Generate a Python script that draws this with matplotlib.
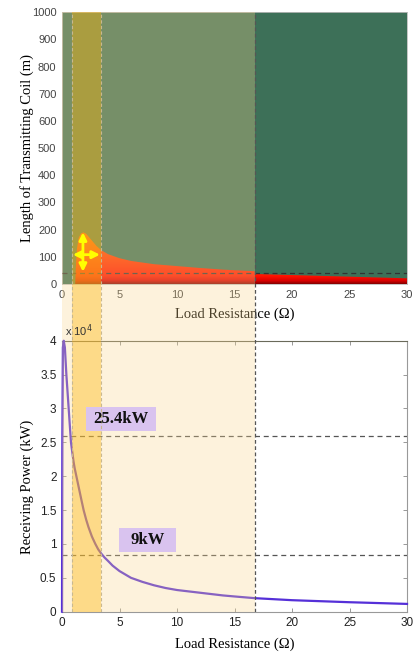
import numpy as np
import matplotlib.pyplot as plt
from matplotlib.colors import LinearSegmentedColormap
from matplotlib.patches import Rectangle

# coil length boundary of the feasible (red) region, 0..16.75 ohm
r_len = [1.15, 1.2, 1.3, 1.45, 1.65, 1.85, 2.1, 2.5, 3.0, 3.4, 4, 5, 6, 8, 10, 12, 14, 16.75]
len_top = [0, 60, 130, 170, 186, 190, 185, 165, 140, 125, 110, 95, 85, 73, 66, 59, 53, 47]
# thin region beyond 16.75 ohm
r_len2 = [16.75, 20, 25, 30]
len_top2 = [37, 33, 27, 21]
len_limit = 40

# receiving power (x 10^4 kW) vs load resistance
r_pw = [0, 0.03, 0.08, 0.15, 0.25, 0.38, 0.58, 0.78, 1.0, 1.1, 1.25, 1.5, 1.7, 1.88,
        2.1, 2.3, 2.6, 2.9, 3.15, 3.4, 3.7, 4, 4.4, 5, 5.5, 6, 6.5, 7, 7.5, 8, 9,
        10, 11, 12, 13, 14, 15, 16.75, 20, 25, 30]
pw = [0, 2.5, 3.9, 4.0, 3.9, 3.5, 3.0, 2.5, 2.22, 2.12, 2.0, 1.8, 1.64, 1.5,
      1.36, 1.25, 1.11, 1.0, 0.92, 0.86, 0.8, 0.75, 0.68, 0.6, 0.55, 0.5, 0.47,
      0.44, 0.415, 0.39, 0.35, 0.32, 0.3, 0.28, 0.26, 0.24, 0.225, 0.2, 0.17,
      0.14, 0.115]
pw_levels = [2.6, 0.84]
pw_labels = ['25.4kW', '9kW']

# resistance ranges
r_opt = (0.85, 3.4)
r_max = 16.75

serif = 'Liberation Serif'
sans = 'Liberation Sans'

fig = plt.figure(figsize=(4.15, 6.55), dpi=100)
left, width = 62 / 415, 345 / 415
ax_top = fig.add_axes([left, 0.5664, width, 0.4148])
ax_bot = fig.add_axes([left, 0.0661, width, 0.4137])
ax_ov = fig.add_axes([left, 0.0661, width, 0.9151], zorder=5)

# ---- top: coil length ----
ax_top.set_facecolor('#3D7058')
fire = LinearSegmentedColormap.from_list('fire', [
    (0.0, '#820000'), (0.06, '#DC0000'), (0.15, '#FF1400'),
    (0.5, '#FF3C00'), (1.0, '#FF6400')])
grad = np.linspace(0, 1, 256)[:, None]
for rr, tt in [(r_len, len_top), (r_len2, len_top2)]:
    poly = ax_top.fill_between(rr, 0, tt, color='none', lw=0)
    im = ax_top.imshow(grad, extent=[0, 30, 0, 200], origin='lower',
                       aspect='auto', cmap=fire, zorder=2)
    im.set_clip_path(poly.get_paths()[0], transform=ax_top.transData)
ax_top.axhline(len_limit, color='#333333', lw=0.9, ls=(0, (4, 3)), zorder=3)
ax_top.set_xlim(0, 30)
ax_top.set_ylim(0, 1000)
ax_top.set_xticks(range(0, 31, 5))
ax_top.set_yticks(range(0, 1001, 100))
ax_top.tick_params(length=0, pad=4, labelsize=8, labelcolor='#444444')
for lab in ax_top.get_xticklabels() + ax_top.get_yticklabels():
    lab.set_family(sans)
for s in ax_top.spines.values():
    s.set_color('#bbbbbb')
    s.set_linewidth(0.6)
ax_top.set_xlabel('Load Resistance (Ω)', family=serif, fontsize=10.5, labelpad=6)
ax_top.set_ylabel('Length of Transmitting Coil (m)', family=serif, fontsize=10.5)
ax_top.yaxis.set_label_coords(-0.08, 0.5)

# ---- bottom: receiving power ----
ax_bot.plot(r_pw, pw, color='#5530D8', lw=1.6, zorder=3, clip_on=False)
for lv in pw_levels:
    ax_bot.axhline(lv, color='#555555', lw=0.9, ls=(0, (4, 3)), zorder=2)
ax_bot.set_xlim(0, 30)
ax_bot.set_ylim(0, 4)
ax_bot.set_xticks(range(0, 31, 5))
ax_bot.set_yticks(np.arange(0, 4.01, 0.5))
ax_bot.set_yticklabels(['0', '0.5', '1', '1.5', '2', '2.5', '3', '3.5', '4'])
ax_bot.tick_params(direction='in', length=3, width=0.6, color='#888888',
                   top=True, right=True, labelsize=8.5, labelcolor='#222222', pad=4)
for lab in ax_bot.get_xticklabels() + ax_bot.get_yticklabels():
    lab.set_family(sans)
for s in ax_bot.spines.values():
    s.set_color('#999999')
    s.set_linewidth(0.8)
ax_bot.spines['top'].set_color('#6a6a5a')
ax_bot.set_xlabel('Load Resistance (Ω)', family=serif, fontsize=10.5, labelpad=6)
ax_bot.set_ylabel('Receiving Power (kW)', family=serif, fontsize=10.5)
ax_bot.yaxis.set_label_coords(-0.08, 0.46)

# ---- shaded resistance ranges over both panels ----
ax_ov.set_xlim(0, 30)
ax_ov.set_ylim(0, 1)
ax_ov.axis('off')
ax_ov.patch.set_alpha(0)
ax_ov.axvspan(0, r_max, color='#FBD78E', alpha=0.3, lw=0)
ax_ov.axvspan(r_opt[0], r_opt[1], color='#FFB400', alpha=0.38, lw=0)
for x in r_opt:
    ax_ov.axvline(x, color='#C8B890', lw=0.8, ls=(0, (3, 2)))
ax_ov.axvline(r_max, color='#555555', lw=0.9, ls=(0, (3, 2)))
ax_ov.text(0.01, 1.008, r'x 10$^4$', transform=ax_bot.transAxes, family=sans,
           fontsize=8, color='#333333', va='bottom', ha='left')

# adjustment arrows
arr = dict(arrowstyle='<|-|>', color='#FFFF00', lw=2, mutation_scale=11,
           shrinkA=0, shrinkB=0)
ax_ov.annotate('', xy=(0.95, 108), xytext=(3.3, 108), xycoords=ax_top.transData,
               textcoords=ax_top.transData, arrowprops=arr)
ax_ov.annotate('', xy=(1.82, 45), xytext=(1.82, 190), xycoords=ax_top.transData,
               textcoords=ax_top.transData, arrowprops=arr)

# power level tags
tags = [(2.1, 2.67, 6.1, 0.35), (4.98, 0.885, 4.92, 0.345)]
for (x0, y0, w, h), txt in zip(tags, pw_labels):
    ax_ov.add_patch(Rectangle((x0, y0), w, h, transform=ax_bot.transData,
                              facecolor='#D9C3EF', edgecolor='none'))
    ax_ov.text(x0 + w / 2, y0 + h / 2, txt, transform=ax_bot.transData,
               ha='center', va='center', family=serif, fontweight='bold',
               fontsize=12, color='#111111')

fig.savefig('out.png', dpi=100)
